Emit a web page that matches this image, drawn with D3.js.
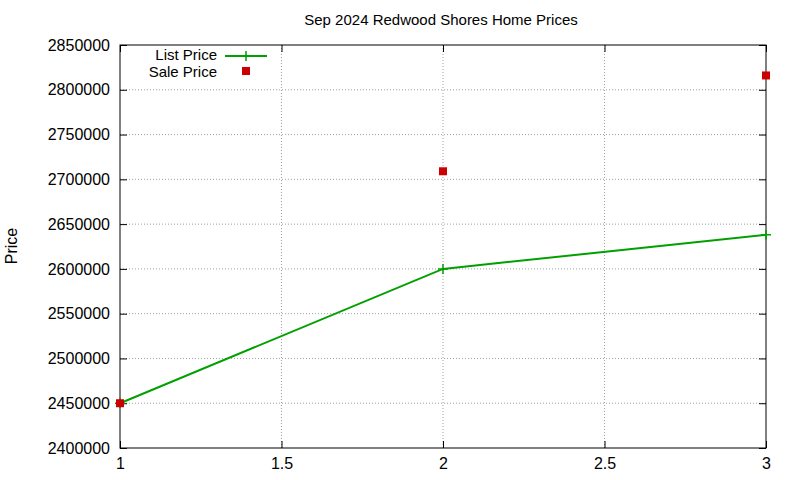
<!DOCTYPE html>
<html><head><meta charset="utf-8">
<script src="https://cdn.jsdelivr.net/npm/d3@7"></script>
<style>body{margin:0;background:#fff}text{font-family:"Liberation Sans",Arial,sans-serif}</style>
</head><body><svg id="c" width="800" height="480"></svg>
<script>
const xVals=[1,2,3];
const listPrice=[2450000,2600000,2638000];
const salePrice=[2450000,2709000,2816000];
const xTicks=[1,1.5,2,2.5,3];
const yTicks=[2400000,2450000,2500000,2550000,2600000,2650000,2700000,2750000,2800000,2850000];
const svg=d3.select("#c");
const L=120,R=766,T=45,B=448;
const x=d3.scaleLinear().domain([1,3]).range([L,R]);
const y=d3.scaleLinear().domain([2400000,2850000]).range([B,T]);
const g=svg.append("g");
xTicks.forEach(t=>{if(t>1&&t<3)g.append("line").attr("x1",x(t)).attr("x2",x(t)).attr("y1",T).attr("y2",B).attr("stroke","#a0a0a0").attr("stroke-dasharray","1,2");});
yTicks.forEach(t=>{if(t>2400000&&t<2850000)g.append("line").attr("x1",L).attr("x2",R).attr("y1",y(t)).attr("y2",y(t)).attr("stroke","#a0a0a0").attr("stroke-dasharray","1,2");});
svg.append("g").attr("transform",`translate(0,${B})`).call(d3.axisBottom(x).tickValues(xTicks).tickFormat(d3.format("")).tickSizeInner(-7).tickSizeOuter(0).tickPadding(10));
svg.append("g").attr("transform",`translate(${L},0)`).call(d3.axisLeft(y).tickValues(yTicks).tickFormat(d3.format("d")).tickSizeInner(-7).tickSizeOuter(0).tickPadding(10));
svg.append("g").attr("transform",`translate(0,${T})`).call(d3.axisTop(x).tickValues(xTicks).tickFormat("").tickSizeInner(-7).tickSizeOuter(0));
svg.append("g").attr("transform",`translate(${R},0)`).call(d3.axisRight(y).tickValues(yTicks).tickFormat("").tickSizeInner(-7).tickSizeOuter(0));
svg.selectAll(".domain").remove();
svg.selectAll(".tick text").attr("font-size",16).attr("fill","#000").style("font-family","Liberation Sans, Arial, sans-serif");
svg.selectAll(".tick line").attr("stroke","#000");
svg.append("rect").attr("x",L).attr("y",T).attr("width",R-L).attr("height",B-T).attr("fill","none").attr("stroke","#000");
svg.append("text").attr("x",441).attr("y",25).attr("text-anchor","middle").attr("font-size",15).text("Sep 2024 Redwood Shores Home Prices");
svg.append("text").attr("transform","translate(17,246) rotate(-90)").attr("text-anchor","middle").attr("font-size",16).text("Price");
const green="#00a000";
svg.append("path").datum(xVals.map((d,i)=>[d,listPrice[i]])).attr("d",d3.line().x(d=>x(d[0])).y(d=>y(d[1]))).attr("fill","none").attr("stroke",green).attr("stroke-width",2);
const plus=(px,py)=>{svg.append("path").attr("d",`M${px-5},${py}H${px+5}M${px},${py-5}V${py+5}`).attr("stroke",green).attr("stroke-width",1.5);};
xVals.forEach((d,i)=>plus(x(d),y(listPrice[i])));
const red="#cc0000";
svg.selectAll(".s").data(xVals.map((d,i)=>[d,salePrice[i]])).enter().append("rect").attr("x",d=>x(d[0])-4).attr("y",d=>y(d[1])-4).attr("width",8).attr("height",8).attr("fill",red);
svg.append("text").attr("x",217).attr("y",60).attr("text-anchor","end").attr("font-size",15).text("List Price");
svg.append("line").attr("x1",225).attr("x2",267).attr("y1",56).attr("y2",56).attr("stroke",green).attr("stroke-width",2);
plus(246,56);
svg.append("text").attr("x",217).attr("y",77).attr("text-anchor","end").attr("font-size",15).text("Sale Price");
svg.append("rect").attr("x",242).attr("y",67).attr("width",8).attr("height",8).attr("fill",red);
</script></body></html>
